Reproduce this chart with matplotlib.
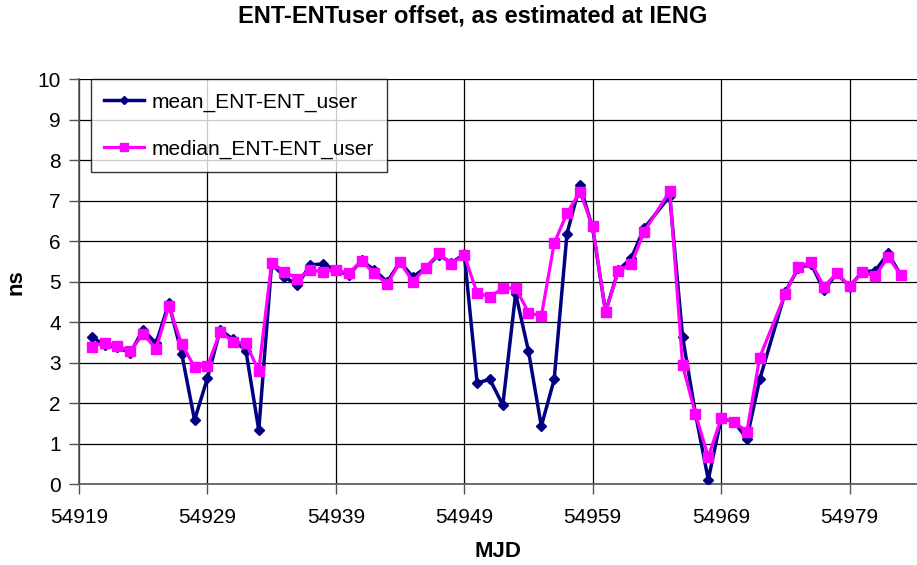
import matplotlib
matplotlib.use("Agg")
import matplotlib.pyplot as plt

plt.rcParams['font.family'] = ['Liberation Sans', 'DejaVu Sans']

mjd = [54920, 54921, 54922, 54923, 54924, 54925, 54926, 54927, 54928, 54929,
       54930, 54931, 54932, 54933, 54934, 54935, 54936, 54937, 54938, 54939,
       54940, 54941, 54942, 54943, 54944, 54945, 54946, 54947, 54948, 54949,
       54950, 54951, 54952, 54953, 54954, 54955, 54956, 54957, 54958, 54959,
       54960, 54961, 54962, 54963, 54965, 54966, 54967, 54968, 54969, 54970,
       54971, 54972, 54974, 54975, 54976, 54977, 54978, 54979, 54980, 54981,
       54982, 54983]

mean_vals = [3.64, 3.44, 3.38, 3.25, 3.82, 3.48, 4.47, 3.23, 1.59, 2.62,
             3.82, 3.58, 3.30, 1.34, 5.44, 5.13, 4.91, 5.42, 5.44, 5.30,
             5.16, 5.53, 5.29, 5.00, 5.49, 5.12, 5.35, 5.66, 5.47, 5.68,
             2.51, 2.59, 1.96, 4.71, 3.29, 1.44, 2.59, 6.19, 7.38, 6.32,
             4.26, 5.29, 5.58, 6.32, 7.11, 3.64, 1.75, 0.12, 1.63, 1.55,
             1.13, 2.59, 4.75, 5.33, 5.45, 4.79, 5.21, 4.88, 5.25, 5.27,
             5.70, 5.16]

median_vals = [3.40, 3.50, 3.41, 3.30, 3.71, 3.35, 4.40, 3.46, 2.90, 2.92,
               3.77, 3.52, 3.48, 2.80, 5.47, 5.25, 5.08, 5.29, 5.25, 5.29,
               5.21, 5.51, 5.21, 4.94, 5.49, 5.00, 5.35, 5.70, 5.45, 5.66,
               4.72, 4.63, 4.84, 4.85, 4.24, 4.15, 5.95, 6.69, 7.22, 6.37,
               4.26, 5.27, 5.44, 6.23, 7.24, 2.94, 1.74, 0.68, 1.63, 1.55,
               1.30, 3.13, 4.71, 5.37, 5.48, 4.88, 5.21, 4.89, 5.23, 5.14,
               5.62, 5.16]

x_ticks = [54919, 54929, 54939, 54949, 54959, 54969, 54979]

fig = plt.figure(figsize=(9.17, 5.65), dpi=100)
ax = fig.add_axes([0.0861, 0.1425, 0.9139, 0.7175])

ax.plot(mjd, mean_vals, color='#000080', linewidth=2.5, marker='D',
        markersize=5, label='mean_ENT-ENT_user', zorder=3)
ax.plot(mjd, median_vals, color='#FF00FF', linewidth=2.3, marker='s',
        markersize=6.5, label='median_ENT-ENT_user', zorder=4)

ax.set_xlim(54919, 54984.25)
ax.set_ylim(0, 10)
ax.set_xticks(x_ticks)
ax.set_yticks(range(0, 11))
ax.grid(True, color='black', linewidth=0.9)
ax.set_axisbelow(True)
for s in ['top', 'right']:
    ax.spines[s].set_visible(False)
for s in ['left', 'bottom']:
    ax.spines[s].set_color('#555555')
    ax.spines[s].set_linewidth(1.2)
ax.tick_params(axis='both', labelsize=15, length=7, color='#555555', width=1.0, pad=6)
ax.tick_params(axis='x', pad=10)

ax.set_xlabel('MJD', fontsize=16, fontweight='bold', labelpad=10)
ax.set_ylabel('ns', fontsize=16, fontweight='bold', labelpad=8)

fig.text(473 / 917, 1 - 16 / 565, 'ENT-ENTuser offset, as estimated at IENG',
         fontsize=17, fontweight='bold', ha='center', va='center')

leg = ax.legend(loc='upper left', bbox_to_anchor=(0.0143, 1.0), fontsize=15,
                frameon=True, fancybox=False, edgecolor='black',
                handlelength=1.9, handletextpad=0.35, labelspacing=1.33,
                borderpad=0.65, borderaxespad=0, markerscale=0.8)
leg.get_frame().set_linewidth(1.0)

fig.savefig('out.png', dpi=100)
